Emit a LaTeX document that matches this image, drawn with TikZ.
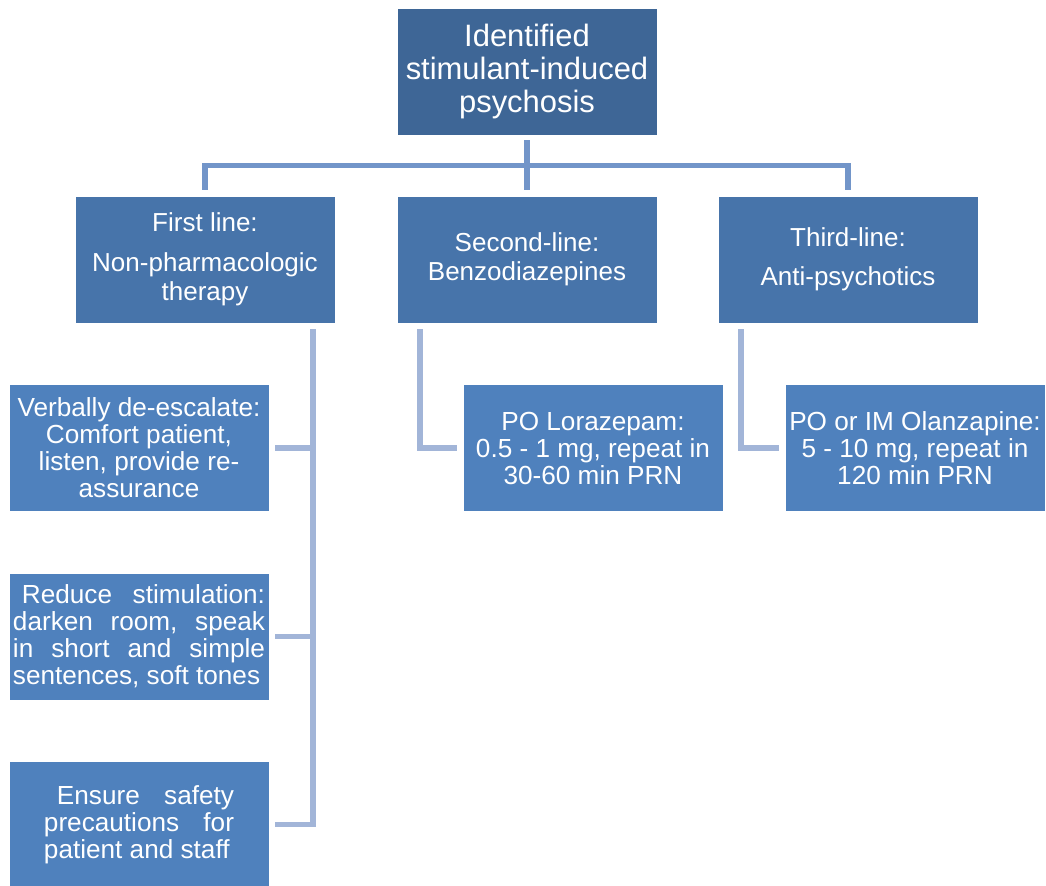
\documentclass[tikz,border=0pt]{standalone}
\usepackage{fontspec}
\setmainfont{Liberation Sans}
\usepackage{xcolor}
\usepackage{tikz}
\definecolor{topblue}{RGB}{62,102,150}
\definecolor{midblue}{RGB}{71,116,170}
\definecolor{lowblue}{RGB}{79,129,189}
\definecolor{busblue}{RGB}{114,149,201}
\definecolor{twigblue}{RGB}{162,181,216}
\newcommand{\jline}[2]{\makebox[#1][l]{#2}}

\begin{document}
\begin{tikzpicture}[
  x=0.025cm, y=-0.025cm,
  T/.style = {draw=white, fill=topblue, thin,
              minimum width=6.5cm, minimum height=3.175cm, inner sep=1pt,
              align=center, text=white, font=\fontsize{22}{23.5}\selectfont},
  M/.style = {T, fill=midblue, font=\fontsize{18.5}{20.5}\selectfont},
  L/.style = {T, fill=lowblue, font=\fontsize{18.6}{19.2}\selectfont},
  bus/.style = {draw=busblue, line width=3.9pt,
                shorten <=3.5pt, shorten >=4.3pt},
  twig/.style = {draw=twigblue, line width=4pt,
                 shorten <=4.3pt, shorten >=4.3pt}
]
\useasboundingbox (0,0) rectangle (1046,886);

% Root
\node[T] (TOP) at (527, 71.5) {Identified\\stimulant-induced\\psychosis};

% Row of treatment lines
\node[M] (FL) at (205, 259.5) {First line:\\[8pt]Non-pharmacologic\\therapy};
\node[M] (SL) at (527, 259.5) {Second-line:\\Benzodiazepines};
\node[M] (TL) at (848, 259.5) {Third-line:\\[7pt]Anti-psychotics};

% First line measures (left column)
\node[L] (VD) at (139, 448) {Verbally de-escalate:\\Comfort patient,\\listen, provide re-\\assurance};
\node[L] (RS) at (139, 636.5) {%
  \jline{6.3cm}{\hspace*{0.225cm}Reduce\hfill stimulation:}\\
  \jline{6.3cm}{darken\hfill room,\hfill speak}\\
  \jline{6.3cm}{in\hfill short\hfill and\hfill simple}\\
  \jline{6.3cm}{sentences, soft tones}};
\node[L] (ES) at (139, 824.5) {%
  \jline{4.75cm}{\hspace*{0.325cm}Ensure\hfill safety}\\
  \jline{4.75cm}{precautions\hfill for}\\
  \jline{4.75cm}{patient and staff}};

% Drug doses
\node[L] (LZ) at (593, 448) {PO Lorazepam:\\0.5 - 1 mg, repeat in\\30-60 min PRN};
\node[L] (OZ) at (915, 448) {PO or IM Olanzapine:\\5 - 10 mg, repeat in\\120 min PRN};

% Root to treatment lines
\draw[bus] (TOP.south) -- ++(0,30) -| (FL.north);
\draw[bus] (TOP.south) -- ++(0,30) -| (TL.north);
\draw[bus] (TOP.south) -- (SL.north);

% Treatment lines to measures
\draw[twig] ([xshift=2.7cm]FL.south) |- (VD.east);
\draw[twig] ([xshift=2.7cm]FL.south) |- (RS.east);
\draw[twig] ([xshift=2.7cm]FL.south) |- (ES.east);
\draw[twig] ([xshift=-2.675cm]SL.south) |- (LZ.west);
\draw[twig] ([xshift=-2.675cm]TL.south) |- (OZ.west);

\end{tikzpicture}
\end{document}
